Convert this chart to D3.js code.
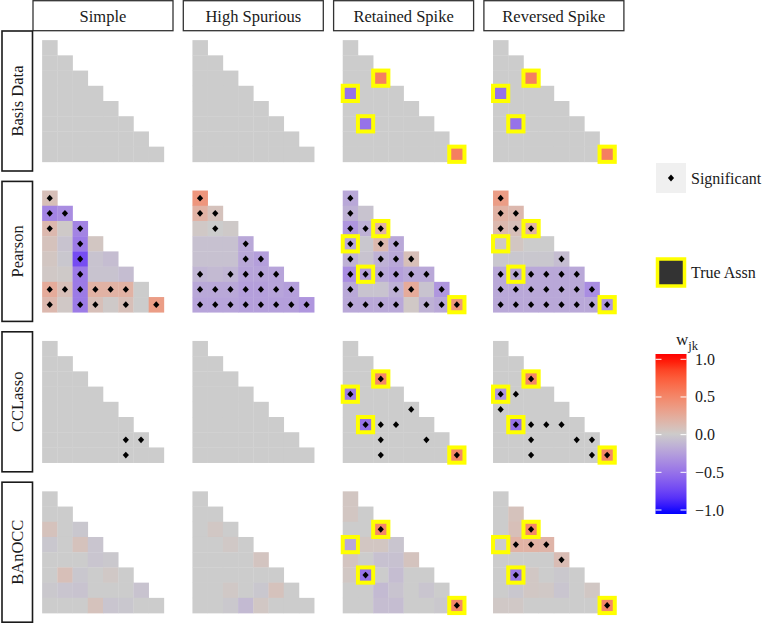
<!DOCTYPE html>
<html>
<head>
<meta charset="utf-8">
<script src="https://cdn.jsdelivr.net/npm/d3@7"></script>
<style>
  body { margin: 0; background: #fff; }
  text { font-family: "Liberation Serif", "DejaVu Serif", serif; fill: #1a1a1a; }
</style>
</head>
<body>
<svg id="chart" width="764" height="624"></svg>
<script>

// Facet labels
const scenarios = ['Simple', 'High Spurious', 'Retained Spike', 'Reversed Spike']
const methods = ['Basis Data', 'Pearson', 'CCLasso', 'BAnOCC']
const legendTicks = [1.0, 0.5, 0.0, -0.5, -1.0]

// True associations (row, col), 1-based, for the spike scenarios
const trueAssn = [[3, 3], [4, 1], [6, 2], [8, 8]]

// w_jk values, lower triangle row by row
const basisSimple = [[0], [0, 0], [0, 0, 0], [0, 0, 0, 0], [0, 0, 0, 0, 0], [0, 0, 0, 0, 0, 0], [0, 0, 0, 0, 0, 0, 0], [0, 0, 0, 0, 0, 0, 0, 0]]
const basisHighSpurious = [[0], [0, 0], [0, 0, 0], [0, 0, 0, 0], [0, 0, 0, 0, 0], [0, 0, 0, 0, 0, 0], [0, 0, 0, 0, 0, 0, 0], [0, 0, 0, 0, 0, 0, 0, 0]]
const basisRetained = [[0], [0, 0], [0, 0, 0.55], [-0.5, 0, 0, 0], [0, 0, 0, 0, 0], [0, -0.5, 0, 0, 0, 0], [0, 0, 0, 0, 0, 0, 0], [0, 0, 0, 0, 0, 0, 0, 0.55]]
const basisReversed = [[0], [0, 0], [0, 0, 0.55], [-0.5, 0, 0, 0], [0, 0, 0, 0, 0], [0, -0.5, 0, 0, 0, 0], [0, 0, 0, 0, 0, 0, 0], [0, 0, 0, 0, 0, 0, 0, 0.55]]

const pearsonSimple = [
  [0.1],
  [-0.4, -0.35],
  [0.15, 0.02, -0.4],
  [0.08, -0.05, -0.45, 0.05],
  [0.05, -0.03, -0.7, -0.05, -0.08],
  [0.03, 0.02, -0.45, -0.05, -0.05, -0.08],
  [0.25, 0.1, -0.45, 0.2, 0.2, 0.2, 0.0],
  [0.15, 0.03, -0.45, 0.1, 0.02, 0.1, 0.0, 0.35]]
const pearsonHighSpurious = [
  [0.4],
  [0.2, 0.08],
  [0.03, 0.0, 0.02],
  [-0.06, -0.06, -0.06, -0.2],
  [-0.06, -0.06, -0.06, -0.2, -0.25],
  [-0.12, -0.1, -0.12, -0.22, -0.22, -0.22],
  [-0.2, -0.2, -0.2, -0.25, -0.25, -0.22, -0.25],
  [-0.22, -0.22, -0.22, -0.25, -0.25, -0.25, -0.25, -0.3]]
const pearsonRetained = [
  [-0.2],
  [-0.15, -0.05],
  [-0.3, -0.15, 0.2],
  [-0.2, -0.03, 0.15, -0.2],
  [-0.15, -0.05, -0.15, -0.2, 0.1],
  [-0.35, -0.25, -0.2, -0.25, -0.2, -0.2],
  [-0.2, -0.05, -0.05, -0.15, 0.25, -0.05, -0.3],
  [-0.2, -0.2, -0.2, -0.2, 0.03, -0.15, -0.2, 0.4]]
const pearsonReversed = [
  [0.35],
  [0.2, 0.15],
  [0.15, 0.1, 0.2],
  [0.03, 0.05, 0.0, 0.0],
  [-0.03, -0.03, -0.03, -0.03, -0.08],
  [-0.2, -0.2, -0.2, -0.2, -0.2, -0.2],
  [-0.2, -0.2, -0.2, -0.2, -0.2, -0.2, -0.35],
  [-0.2, -0.2, -0.2, -0.2, -0.2, -0.2, -0.2, -0.3]]

const cclassoSimple = [[0], [0, 0], [0, 0, 0], [0, 0, 0, 0], [0, 0, 0, 0, 0], [0, 0, 0, 0, 0, 0], [0, 0, 0, 0, 0, 0, 0], [0, 0, 0, 0, 0, 0, 0, 0]]
const cclassoHighSpurious = [[0], [0, 0], [0, 0, 0], [0, 0, 0, 0], [0, 0, 0, 0, 0], [0, 0, 0, 0, 0, 0], [0, 0, 0, 0, 0, 0, 0], [0, 0, 0, 0, 0, 0, 0, 0]]
const cclassoRetained = [[0], [0, 0], [0, 0, 0.5], [-0.45, 0, 0, 0], [0, 0, 0, 0, 0], [0, -0.5, 0, 0, 0, 0], [0, 0, 0, 0, 0, 0, 0], [0, 0, 0, 0, 0, 0, 0, 0.5]]
const cclassoReversed = [[0], [0, 0], [0, 0, 0.5], [-0.3, 0, 0, 0], [0, 0, 0, 0, 0], [0, -0.5, 0, 0, 0, 0], [0, 0, 0, 0, 0, 0, 0], [0, 0, 0, 0, 0, 0, 0, 0.5]]

const banoccSimple = [
  [0],
  [0, 0],
  [0.08, 0, -0.03],
  [-0.03, 0, 0.08, -0.04],
  [0, 0, 0, -0.04, -0.02],
  [0, 0.1, -0.03, 0, 0.03, 0],
  [-0.02, -0.04, -0.05, 0, 0, 0, -0.05],
  [0, 0, 0, 0.08, -0.04, -0.03, 0, 0]]
const banoccHighSpurious = [
  [0],
  [0, 0],
  [0, 0.04, 0],
  [0, 0, 0.03, 0],
  [0, 0, 0, 0, 0.06],
  [0, 0, 0, 0, 0, 0],
  [0, 0, 0.03, 0, -0.03, 0.08, 0],
  [0, 0, -0.02, -0.1, 0.04, 0, 0, 0]]
const banoccRetained = [
  [0.05],
  [0.05, 0],
  [0, 0, 0.5],
  [-0.2, 0.05, 0.05, -0.04],
  [0.06, 0, -0.06, -0.06, 0.07],
  [0.04, -0.5, 0, -0.08, 0, 0],
  [0, 0, -0.1, -0.05, 0, -0.04, 0],
  [0, 0, -0.08, -0.08, 0, 0, -0.02, 0.5]]
const banoccReversed = [
  [0],
  [0, 0.08],
  [0, 0.1, 0.5],
  [0.0, 0.2, 0.2, 0.18],
  [0, 0, 0, 0, 0.12],
  [0, -0.45, 0.04, 0, -0.02, 0],
  [0, -0.03, 0.04, 0.03, -0.04, 0, 0.04],
  [0.03, 0.03, 0, 0, 0, 0, 0, 0.5]]

// Significance flags, one string per row ('1' = significant)
const basisSig = []
const pearsonSimpleSig = ['1', '11', '101', '0010', '00100', '001000', '1111110', '10110101']
const pearsonHighSpuriousSig = ['1', '11', '010', '0001', '00011', '101111', '1111111', '11111111']
const pearsonRetainedSig = ['1', '10', '111', '1011', '10111', '111111', '1001101', '11110111']
const pearsonReversedSig = ['1', '11', '111', '0000', '00001', '111111', '1111111', '11111111']
const cclassoSimpleSig = ['0', '00', '000', '0000', '00000', '000000', '0000011', '00000100']
const cclassoHighSpuriousSig = []
const cclassoRetainedSig = ['0', '00', '001', '1000', '00001', '011100', '0010010', '00100001']
const cclassoReversedSig = ['0', '00', '001', '1100', '10000', '011110', '0010011', '00100011']
const banoccSimpleSig = []
const banoccHighSpuriousSig = []
const banoccRetainedSig = ['0', '00', '001', '0000', '00000', '010000', '0000000', '00000001']
const banoccReversedSig = ['0', '00', '001', '0111', '00001', '010000', '0000000', '00000001']

const valueGrid = [
  [basisSimple, basisHighSpurious, basisRetained, basisReversed],
  [pearsonSimple, pearsonHighSpurious, pearsonRetained, pearsonReversed],
  [cclassoSimple, cclassoHighSpurious, cclassoRetained, cclassoReversed],
  [banoccSimple, banoccHighSpurious, banoccRetained, banoccReversed]]
const sigGrid = [
  [basisSig, basisSig, basisSig, basisSig],
  [pearsonSimpleSig, pearsonHighSpuriousSig, pearsonRetainedSig, pearsonReversedSig],
  [cclassoSimpleSig, cclassoHighSpuriousSig, cclassoRetainedSig, cclassoReversedSig],
  [banoccSimpleSig, banoccHighSpuriousSig, banoccRetainedSig, banoccReversedSig]]

// Layout
const panelLeft = 33, panelTop = 31
const panelW = 140, panelH = 140
const stepX = 150.3, stepY = 150.4
const nVar = 8

const svg = d3.select('#chart')

const color = d3.scaleLinear()
  .domain([-1, 0, 1])
  .range(['#0000FF', '#CCCCCC', '#FF0000'])
  .interpolate(d3.interpolateLab)
  .clamp(true)

const x = d3.scaleBand().domain(d3.range(nVar)).range([0, panelW]).paddingOuter(0.6).paddingInner(0)
const y = d3.scaleBand().domain(d3.range(nVar)).range([0, panelH]).paddingOuter(0.6).paddingInner(0)

function diamondPath(cx, cy) {
  const w = 3.1, h = 3.4
  return 'M' + cx + ',' + (cy - h) + 'L' + (cx + w) + ',' + cy + 'L' + cx + ',' + (cy + h) + 'L' + (cx - w) + ',' + cy + 'Z'
}

// Strips on top
scenarios.forEach(function(s, j){
  const g = svg.append('g').attr('transform', 'translate(' + (panelLeft + j * stepX) + ',0)')
  g.append('rect')
    .attr('x', 0).attr('y', 0.7)
    .attr('width', panelW).attr('height', 30)
    .attr('fill', '#fff').attr('stroke', '#333').attr('stroke-width', 1.3)
  g.append('text')
    .attr('x', panelW / 2).attr('y', 22)
    .attr('text-anchor', 'middle')
    .style('font-size', '16.5px')
    .text(s)
})

// Strips on the left
methods.forEach(function(m, i){
  const g = svg.append('g').attr('transform', 'translate(0,' + (panelTop + i * stepY) + ')')
  g.append('rect')
    .attr('x', 2).attr('y', 0)
    .attr('width', 30.5).attr('height', panelH)
    .attr('fill', '#fff').attr('stroke', '#1a1a1a').attr('stroke-width', 1.6)
  g.append('text')
    .attr('transform', 'translate(23,' + (panelH / 2) + ') rotate(-90)')
    .attr('text-anchor', 'middle')
    .style('font-size', '16.5px')
    .text(m)
})

// Panels
methods.forEach(function(m, i){
  scenarios.forEach(function(s, j){
    const vals = valueGrid[i][j]
    const sig = sigGrid[i][j]
    const spike = j >= 2

    const cells = []
    vals.forEach(function(row, r){
      row.forEach(function(v, c){
        cells.push({
          r: r, c: c, v: v,
          sig: sig[r] ? sig[r][c] === '1' : false,
          truth: spike && trueAssn.some(t => t[0] === r + 1 && t[1] === c + 1)
        })
      })
    })

    const g = svg.append('g')
      .attr('transform', 'translate(' + (panelLeft + j * stepX) + ',' + (panelTop + i * stepY) + ')')

    // Tiles
    g.selectAll('rect.tile')
      .data(cells)
      .enter()
      .append('rect')
      .classed('tile', true)
      .attr('x', d => x(d.c))
      .attr('y', d => y(d.r))
      .attr('width', x.bandwidth() + 0.3)
      .attr('height', y.bandwidth() + 0.3)
      .attr('fill', d => color(d.v))

    // True association outlines
    g.selectAll('rect.truth')
      .data(cells.filter(d => d.truth))
      .enter()
      .append('rect')
      .classed('truth', true)
      .attr('x', d => x(d.c))
      .attr('y', d => y(d.r))
      .attr('width', x.bandwidth())
      .attr('height', y.bandwidth())
      .attr('fill', 'none')
      .attr('stroke', '#FFFF00')
      .attr('stroke-width', 4)

    // Significance diamonds
    g.selectAll('path.sig')
      .data(cells.filter(d => d.sig))
      .enter()
      .append('path')
      .classed('sig', true)
      .attr('d', d => diamondPath(x(d.c) + x.bandwidth() / 2, y(d.r) + y.bandwidth() / 2))
      .attr('fill', '#000')
  })
})

// Legend: Significant
const legend = svg.append('g').attr('transform', 'translate(656,0)')
legend.append('rect')
  .attr('x', 0).attr('y', 163).attr('width', 30).attr('height', 30)
  .attr('fill', '#F0F0F0')
legend.append('path')
  .attr('d', diamondPath(15, 178))
  .attr('fill', '#000')
legend.append('text')
  .attr('x', 35).attr('y', 183.5)
  .style('font-size', '16px')
  .text('Significant')

// Legend: True Assn
legend.append('rect')
  .attr('x', 1.5).attr('y', 259).attr('width', 27).attr('height', 27)
  .attr('fill', '#333333')
  .attr('stroke', '#FFFF00')
  .attr('stroke-width', 3.5)
legend.append('text')
  .attr('x', 35).attr('y', 278)
  .style('font-size', '16px')
  .text('True Assn')

// Legend: colour bar
const barX = 655.5, barW = 31, barTop = 354, barBottom = 514
const barScale = d3.scaleLinear().domain([-1, 1]).range([510, 359.3])
const vTop = barScale.invert(barTop), vBottom = barScale.invert(barBottom)

const defs = svg.append('defs')
const grad = defs.append('linearGradient')
  .attr('id', 'wgrad')
  .attr('x1', 0).attr('y1', 1).attr('x2', 0).attr('y2', 0)
grad.selectAll('stop')
  .data(d3.range(0, 1.0001, 0.05))
  .enter()
  .append('stop')
  .attr('offset', d => d)
  .attr('stop-color', d => color(vBottom + d * (vTop - vBottom)))

svg.append('rect')
  .attr('x', barX).attr('y', barTop)
  .attr('width', barW).attr('height', barBottom - barTop)
  .attr('fill', 'url(#wgrad)')

svg.selectAll('line.tickL')
  .data(legendTicks)
  .enter()
  .append('line')
  .attr('x1', barX).attr('x2', barX + 6)
  .attr('y1', d => barScale(d)).attr('y2', d => barScale(d))
  .attr('stroke', '#fff').attr('stroke-width', 1)
svg.selectAll('line.tickR')
  .data(legendTicks)
  .enter()
  .append('line')
  .attr('x1', barX + barW - 6).attr('x2', barX + barW)
  .attr('y1', d => barScale(d)).attr('y2', d => barScale(d))
  .attr('stroke', '#fff').attr('stroke-width', 1)

svg.selectAll('text.tickLabel')
  .data(legendTicks)
  .enter()
  .append('text')
  .classed('tickLabel', true)
  .attr('x', 695)
  .attr('y', d => barScale(d) + 5.5)
  .style('font-size', '16px')
  .text(d => (d < 0 ? '\u2212' : '') + Math.abs(d).toFixed(1))

// Colour bar title w_jk
const title = svg.append('text')
  .attr('x', 676).attr('y', 345)
  .style('font-size', '17px')
title.append('tspan').text('w')
title.append('tspan')
  .attr('dy', 4.5)
  .style('font-size', '12.5px')
  .text('jk')

</script>
</body>
</html>
